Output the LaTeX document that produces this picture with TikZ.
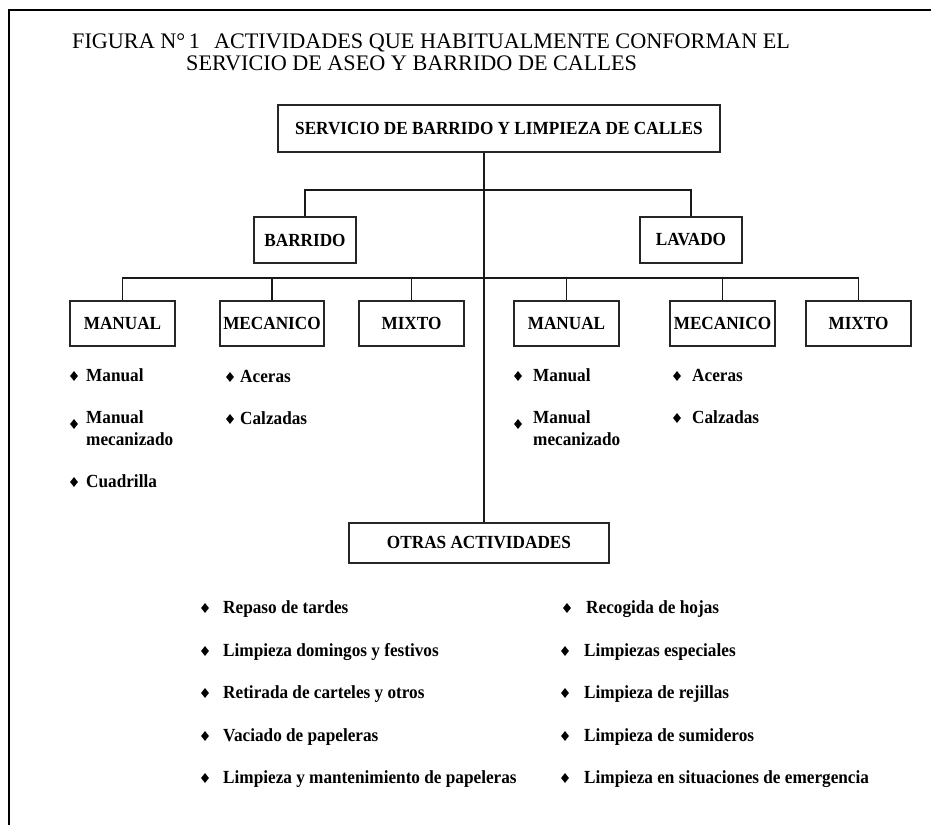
\documentclass[tikz,border=0pt]{standalone}
\usepackage{fontspec}
\setmainfont{Liberation Serif}
\newfontfamily\narrowserif[FakeStretch=0.93]{Liberation Serif}
\usetikzlibrary{shapes}

\tikzset{
	box/.style={draw=black!85, line width=1.3pt, inner sep=0pt, font=\narrowserif\bfseries\fontsize{18.5}{20}\selectfont},
	item/.style={anchor=base west, inner sep=0pt, align=left, font=\narrowserif\bfseries\fontsize{18.5}{22}\selectfont},
	dot/.style={diamond, fill=black, inner sep=0pt, minimum width=8pt, minimum height=10pt},
	link/.style={draw=black!90, line width=1.1pt}
}

\begin{document}
\begin{tikzpicture}[x=1pt, y=-1pt]
		\useasboundingbox (0,0) rectangle (931,825);
		\draw[line width=2.2pt] (931,10) -- (9,10) -- (9,825);
		\node[anchor=base west, inner sep=0pt, align=left, font=\fontsize{22.2}{21.5}\selectfont] (title) at (72,70) {FIGURA N\textdegree\,1\hspace{14pt}ACTIVIDADES QUE HABITUALMENTE CONFORMAN EL\\\hspace*{114pt}SERVICIO DE ASEO Y BARRIDO DE CALLES};
		% boxes
		\node[box, minimum width=442pt, minimum height=47pt] (servicio) at (499,128.5) {SERVICIO DE BARRIDO Y LIMPIEZA DE CALLES};
		\node[box, minimum width=102pt, minimum height=46pt] (barrido) at (305,240) {BARRIDO};
		\node[box, minimum width=102pt, minimum height=46pt] (lavado) at (691,240) {LAVADO};
		\node[box, minimum width=105pt, minimum height=45pt] (manualA) at (122.5,323.5) {MANUAL};
		\node[box, minimum width=104pt, minimum height=45pt] (mecanicoA) at (272,323.5) {MECANICO};
		\node[box, minimum width=105pt, minimum height=45pt] (mixtoA) at (411.5,323.5) {MIXTO};
		\node[box, minimum width=105pt, minimum height=45pt] (manualB) at (566.5,323.5) {MANUAL};
		\node[box, minimum width=105pt, minimum height=45pt] (mecanicoB) at (722.5,323.5) {MECANICO};
		\node[box, minimum width=105pt, minimum height=45pt] (mixtoB) at (858.5,323.5) {MIXTO};
		\node[box, minimum width=260pt, minimum height=40pt] (otras) at (479,543) {OTRAS ACTIVIDADES};
		% connectors
		\coordinate (trunkA) at (484,190);
		\coordinate (trunkB) at (484,278);
		\draw[link] (servicio.south -| trunkA) -- (otras.north -| trunkA);
		\draw[link] (barrido.north) |- (trunkA) -| (lavado.north);
		\draw[link] (manualA.north) |- (trunkB) -| (mixtoB.north);
		\draw[link] (mecanicoA.north) -- (mecanicoA.north |- trunkB);
		\draw[link] (mixtoA.north) -- (mixtoA.north |- trunkB);
		\draw[link] (manualB.north) -- (manualB.north |- trunkB);
		\draw[link] (mecanicoB.north) -- (mecanicoB.north |- trunkB);
		% lists under the boxes
		\node[dot] (d1) at (74,376) {};
		\node[item] (manual1) at (86,381.5) {Manual};
		\node[dot] (d2) at (74,424) {};
		\node[item] (mecanizado1) at (86,445.5) {Manual\\mecanizado};
		\node[dot] (d3) at (74,482) {};
		\node[item] (cuadrilla) at (86,487.5) {Cuadrilla};
		\node[dot] (d4) at (230,377) {};
		\node[item] (aceras1) at (240,382.5) {Aceras};
		\node[dot] (d5) at (230,419) {};
		\node[item] (calzadas1) at (240,424.5) {Calzadas};
		\node[dot] (d6) at (518,376) {};
		\node[item] (manual2) at (533,381.5) {Manual};
		\node[dot] (d7) at (518,424) {};
		\node[item] (mecanizado2) at (533,445.5) {Manual\\mecanizado};
		\node[dot] (d8) at (677,376) {};
		\node[item] (aceras2) at (692,381.5) {Aceras};
		\node[dot] (d9) at (677,418) {};
		\node[item] (calzadas2) at (692,423.5) {Calzadas};
		% otras actividades
		\node[dot] (e1) at (205,608) {};
		\node[item] (repaso) at (223,613.5) {Repaso de tardes};
		\node[dot] (e2) at (205,651) {};
		\node[item] (domingos) at (223,656.5) {Limpieza domingos y festivos};
		\node[dot] (e3) at (205,693) {};
		\node[item] (carteles) at (223,698.5) {Retirada de carteles y otros};
		\node[dot] (e4) at (205,736) {};
		\node[item] (vaciado) at (223,741.5) {Vaciado de papeleras};
		\node[dot] (e5) at (205,778) {};
		\node[item] (mantenimiento) at (223,783.5) {Limpieza y mantenimiento de papeleras};
		\node[dot] (f1) at (567,608) {};
		\node[item] (hojas) at (586,613.5) {Recogida de hojas};
		\node[dot] (f2) at (565,651) {};
		\node[item] (especiales) at (584,656.5) {Limpiezas especiales};
		\node[dot] (f3) at (565,693) {};
		\node[item] (rejillas) at (584,698.5) {Limpieza de rejillas};
		\node[dot] (f4) at (565,736) {};
		\node[item] (sumideros) at (584,741.5) {Limpieza de sumideros};
		\node[dot] (f5) at (565,778) {};
		\node[item] (emergencia) at (584,783.5) {Limpieza en situaciones de emergencia};
	\end{tikzpicture}
\end{document}
